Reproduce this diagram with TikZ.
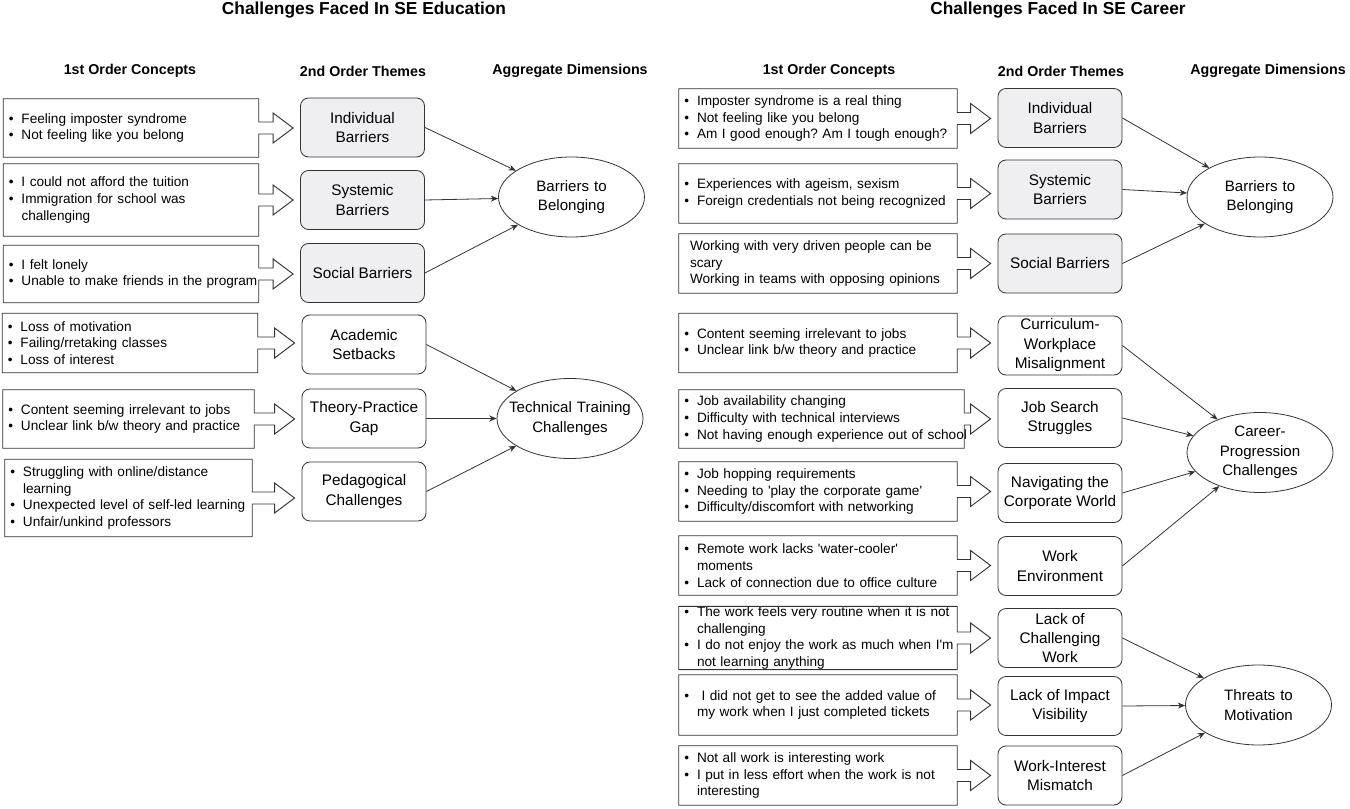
\documentclass[tikz,border=0pt]{standalone}
\usepackage{fontspec}
\setmainfont{Liberation Sans}
\usepackage{tikz}
\usetikzlibrary{arrows.meta, shapes.geometric, calc}
\definecolor{themegray}{HTML}{EFEFF1}
\definecolor{linegray}{HTML}{333333}
\setlength{\parindent}{0pt}
\frenchspacing
\newcommand{\itm}[1]{\makebox[9.5pt][l]{\textbullet}\mbox{#1}}
\newcommand{\itmcont}[1]{\hspace*{9.5pt}\mbox{#1}}
\newcommand{\q}{\textquotesingle}

\begin{document}
\begin{tikzpicture}[x=0.75pt, y=-0.75pt,
                    title/.style={
                        font=\bfseries\fontsize{13}{15}\selectfont
                    },
                    header/.style={
                        font=\bfseries\fontsize{10.7}{13}\selectfont
                    },
                    concept/.style={
                        align=left,
                        inner xsep=4pt,
                        inner ysep=0pt,
                        text width=#1,
                        minimum height=44.25pt,
                        font=\fontsize{10.2}{12.5}\selectfont
                    },
                    concept/.default=183.25pt,
                    outline/.style={
                        draw=linegray,
                        line width=0.7pt
                    },
                    theme/.style={
                        draw=linegray,
                        line width=0.6pt,
                        rounded corners=6pt,
                        minimum width=93pt,
                        minimum height=44.25pt,
                        inner xsep=2pt,
                        inner ysep=0pt,
                        align=center,
                        font=\fontsize{11.5}{14.6}\selectfont
                    },
                    barrier/.style={
                        theme,
                        fill=themegray
                    },
                    aggregate/.style={
                        draw=linegray,
                        line width=0.6pt,
                        ellipse,
                        text width=104pt,
                        inner xsep=-18pt,
                        inner ysep=-6pt,
                        minimum width=109.5pt,
                        minimum height=60pt,
                        align=center,
                        font=\fontsize{11.3}{14.6}\selectfont
                    },
                    link/.style={
                        -{Stealth[length=5.5pt,width=4.5pt]},
                        draw=linegray,
                        line width=0.6pt
                    }
                ]
                \useasboundingbox (0,0) rectangle (1350,809);

                % Titres
                \node[title] (eduTitle) at (364,10) {Challenges Faced In SE Education};
                \node[title] (carTitle) at (1058,10) {Challenges Faced In SE Career};

                % En-tetes de colonnes
                \node[header] (eduHead1) at (130,71) {1st Order Concepts};
                \node[header] (eduHead2) at (363,71) {2nd Order Themes};
                \node[header] (eduHead3) at (570,71) {Aggregate Dimensions};
                \node[header] (carHead1) at (829,71) {1st Order Concepts};
                \node[header] (carHead2) at (1061,71) {2nd Order Themes};
                \node[header] (carHead3) at (1268,71) {Aggregate Dimensions};

                % Education : concepts
                \node[concept, minimum height=43.5pt] (eImposter) at (131,128) {\itm{Feeling imposter syndrome}\\\itm{Not feeling like you belong}};
                \node[concept, minimum height=54pt] (eTuition) at (131,200) {\itm{I could not afford the tuition}\\\itm{Immigration for school was}\\\itmcont{challenging}};
                \node[concept, minimum height=42.75pt] (eLonely) at (131,274) {\itm{I felt lonely}\\\itm{Unable to make friends in the program}};
                \node[concept] (eMotivation) at (130,343) {\itm{Loss of motivation}\\\itm{Failing/rretaking classes}\\\itm{Loss of interest}};
                \node[concept=180.25pt, minimum height=43.5pt] (eContent) at (128.5,419) {\itm{Content seeming irrelevant to jobs}\\\itm{Unclear link b/w theory and practice}};
                \node[concept=177.25pt, minimum height=57.75pt] (eOnline) at (128.5,498) {\itm{Struggling with online/distance}\\\itmcont{learning}\\\itm{Unexpected level of self-led learning}\\\itm{Unfair/unkind professors}};

                % Education : themes
                \node[barrier] (eIndiv) at (362.5,127.5) {Individual\\Barriers};
                \node[barrier] (eSystem) at (362.5,200) {Systemic\\Barriers};
                \node[barrier] (eSocial) at (362.5,273) {Social Barriers};
                \node[theme] (eAcademic) at (364,344.5) {Academic\\Setbacks};
                \node[theme] (eGap) at (364,418.5) {Theory-Practice\\Gap};
                \node[theme] (ePedagogy) at (364,491.5) {Pedagogical\\Challenges};

                % Education : dimensions
                \node[aggregate] (eBelong) at (571.5,197) {Barriers to\\Belonging};
                \node[aggregate] (eTraining) at (570,418.5) {Technical Training\\Challenges};

                % Carriere : concepts
                \node[concept=200.5pt] (kImposter) at (818,118.5) {\itm{Imposter syndrome is a real thing}\\\itm{Not feeling like you belong}\\\itm{Am I good enough? Am I tough enough?}};
                \node[concept=200.5pt] (kAgeism) at (818,193.5) {\itm{Experiences with ageism, sexism}\\\itm{Foreign credentials not being recognized}};
                \node[concept=200.5pt] (kDriven) at (818,263.5) {\hspace*{4.25pt}\mbox{Working with very driven people can be}\\\hspace*{4.25pt}scary\\\hspace*{4.25pt}\mbox{Working in teams with opposing opinions}};
                \node[concept=200.5pt] (kContent) at (818,343) {\itm{Content seeming irrelevant to jobs}\\\itm{Unclear link b/w theory and practice}};
                \node[concept=205.75pt, minimum height=43.5pt] (kJobs) at (821.5,419) {\itm{Job availability changing}\\\itm{Difficulty with technical interviews}\\\itm{Not having enough experience out of school}};
                \node[concept=200.5pt] (kHopping) at (818,491.5) {\itm{Job hopping requirements}\\\itm{Needing to \q play the corporate game\q}\\\itm{Difficulty/discomfort with networking}};
                \node[concept=200.5pt] (kRemote) at (818,565.5) {\itm{Remote work lacks \q water-cooler\q}\\\itmcont{moments}\\\itm{Lack of connection due to office culture}};
                \node[concept=200.5pt, minimum height=45pt] (kRoutine) at (818,638) {\itm{The work feels very routine when it is not}\\\itmcont{challenging}\\\itm{I do not enjoy the work as much when I\q m}\\\itmcont{not learning anything}};
                \node[concept=200.5pt, minimum height=45pt] (kValue) at (818,705) {\itm{\ I did not get to see the added value of}\\\itmcont{my work when I just completed tickets}};
                \node[concept=200.5pt] (kInterest) at (818,775.5) {\itm{Not all work is interesting work}\\\itm{I put in less effort when the work is not}\\\itmcont{interesting}};

                % Carriere : themes
                \node[barrier] (kIndiv) at (1060,118) {Individual\\Barriers};
                \node[barrier] (kSystem) at (1060,189.5) {Systemic\\Barriers};
                \node[barrier] (kSocial) at (1060,263.5) {Social Barriers};
                \node[theme] (kCurric) at (1060,345.5) {Curriculum-\\Workplace\\Misalignment};
                \node[theme] (kSearch) at (1060,418) {Job Search\\Struggles};
                \node[theme] (kCorporate) at (1060,493) {Navigating the\\Corporate World};
                \node[theme] (kEnviron) at (1060,566) {Work\\Environment};
                \node[theme] (kChallenge) at (1060,638) {Lack of\\Challenging\\Work};
                \node[theme] (kImpact) at (1060,706) {Lack of Impact\\Visibility};
                \node[theme] (kMismatch) at (1060,775.5) {Work-Interest\\Mismatch};

                % Carriere : dimensions
                \node[aggregate] (kBelong) at (1260,197) {Barriers to\\Belonging};
                \node[aggregate] (kCareer) at (1260,452.5) {Career-\\Progression\\Challenges};
                \node[aggregate] (kMotivation) at (1258.5,705) {Threats to\\Motivation};

                % Cadres avec fleches pleines
                \foreach \c/\t in {eImposter/eIndiv, eTuition/eSystem, eLonely/eSocial,
                                   eMotivation/eAcademic, eContent/eGap, eOnline/ePedagogy,
                                   kImposter/kIndiv, kAgeism/kSystem, kDriven/kSocial,
                                   kContent/kCurric, kJobs/kSearch, kHopping/kCorporate,
                                   kRemote/kEnviron, kRoutine/kChallenge, kValue/kImpact,
                                   kInterest/kMismatch}
                    \draw[outline] let \p1=(\c.east), \p2=(\t.west) in
                        (\c.north east) -- (\x1,\y1+4.5pt) -- (\x2-20.25pt,\y1+4.5pt)
                        -- (\x2-20.25pt,\y1+11.25pt) -- (\x2-5.25pt,\y1)
                        -- (\x2-20.25pt,\y1-11.25pt) -- (\x2-20.25pt,\y1-4.5pt)
                        -- (\x1,\y1-4.5pt) -- (\c.south east) -- (\c.south west)
                        -- (\c.north west) -- cycle;

                % Fleches vers les dimensions
                \foreach \t/\d in {eIndiv/eBelong, eSystem/eBelong, eSocial/eBelong,
                                   eAcademic/eTraining, eGap/eTraining, ePedagogy/eTraining,
                                   kIndiv/kBelong, kSystem/kBelong, kSocial/kBelong,
                                   kCurric/kCareer, kSearch/kCareer, kCorporate/kCareer,
                                   kEnviron/kCareer, kChallenge/kMotivation,
                                   kImpact/kMotivation, kMismatch/kMotivation}
                    \draw[link] (\t.east) -- (\d);

            \end{tikzpicture}
\end{document}
